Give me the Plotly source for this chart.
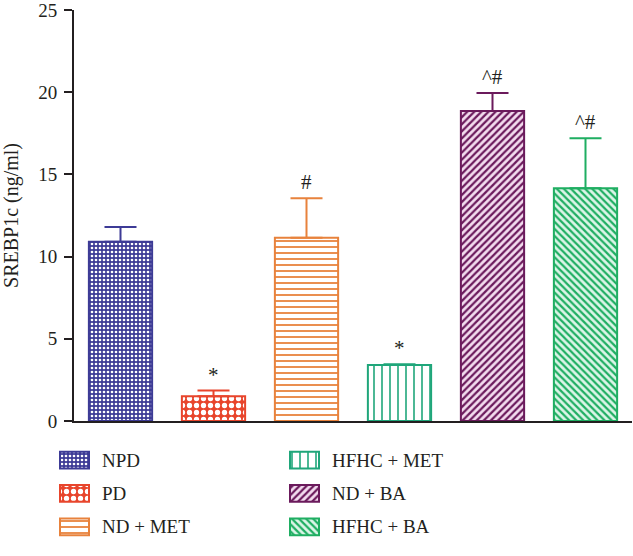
import plotly.graph_objects as go

groups = ["NPD", "PD", "ND + MET", "HFHC + MET", "ND + BA", "HFHC + BA"]
means = [10.9, 1.5, 11.15, 3.4, 18.85, 14.15]
errors = [0.9, 0.35, 2.4, 0.05, 1.1, 3.05]
marks = ["", "*", "#", "*", "^#", "^#"]
ytick_vals = [0, 5, 10, 15, 20, 25]

colors = ["#3d3b96", "#e8452c", "#e8823c", "#1fa67a", "#6b1a5c", "#1fae62"]
bgcolors = ["#3d3b96", "#e8452c", "#ffffff", "#ffffff", "#f3dcef", "#dcf5e8"]
fgcolors = ["#ffffff", "#ffffff", "#e8823c", "#1fa67a", "#6b1a5c", "#1fae62"]
shapes = [".", ".", "-", "|", "/", "\\"]
sizes = [4, 7, 6, 8, 5, 5]
solid = [0.35, 0.45, 0.3, 0.2, 0.45, 0.45]

# legend layout (row / column of each entry, in page pixels for the key area)
leg_row = [0, 1, 2, 0, 1, 2]
leg_col = [0, 0, 0, 1, 1, 1]
leg_sw_x = [60, 290]      # swatch left edge per column
leg_sw_w = 29
leg_txt_x = [100, 330]

FONT = "Liberation Serif"
TXT = "#231f20"
W, H = 633, 556
TOP = 10

fig = go.Figure()
for i, g in enumerate(groups):
    pat = dict(shape=shapes[i], fgcolor=fgcolors[i], bgcolor=bgcolors[i],
               size=sizes[i], solidity=solid[i], fillmode="replace")
    fig.add_trace(go.Bar(
        x=[g], y=[means[i]], name=g, width=0.68, showlegend=False,
        marker=dict(color=colors[i], line=dict(color=colors[i], width=2), pattern=pat),
        error_y=dict(type="data", array=[errors[i]], symmetric=False, arrayminus=[0],
                     color=colors[i], thickness=2, width=16),
        xaxis="x", yaxis="y",
    ))
    if marks[i]:
        fig.add_annotation(x=g, y=means[i] + errors[i], text=marks[i], showarrow=False,
                           xref="x", yref="y", yanchor="bottom", yshift=2,
                           font=dict(family=FONT, size=21, color=TXT))
    # legend key swatch
    fig.add_trace(go.Bar(
        orientation="h", y=[leg_row[i]], x=[leg_sw_w], base=[leg_sw_x[leg_col[i]]],
        width=0.5, showlegend=False, hoverinfo="skip",
        marker=dict(color=colors[i], line=dict(color=colors[i], width=2), pattern=pat),
        xaxis="x2", yaxis="y2",
    ))
    fig.add_annotation(x=leg_txt_x[leg_col[i]], y=leg_row[i], text=g, showarrow=False,
                       xref="x2", yref="y2", xanchor="left", yanchor="middle",
                       font=dict(family=FONT, size=19, color=TXT))

fig.update_layout(
    width=W, height=H,
    margin=dict(l=0, r=0, t=TOP, b=0, autoexpand=False),
    paper_bgcolor="white", plot_bgcolor="white",
    barmode="overlay",
    showlegend=False,
    font=dict(family=FONT, color=TXT),
    xaxis=dict(domain=[74 / W, 632 / W], anchor="y",
               showticklabels=False, ticks="", showline=True, linecolor="#231f20",
               linewidth=2, showgrid=False, zeroline=False, range=[-0.5, 5.5],
               automargin=False),
    yaxis=dict(domain=[(H - 421) / (H - TOP), 1], anchor="x",
               range=[0, 25], tickvals=ytick_vals, showline=True,
               linecolor="#231f20", linewidth=2, ticks="outside", ticklen=8,
               tickwidth=2, tickcolor="#231f20", showgrid=False, zeroline=False,
               automargin=False, ticklabeloverflow="allow", ticklabelstandoff=3,
               tickfont=dict(family=FONT, size=19, color=TXT),
               title=dict(text="SREBP1c (ng/ml)", standoff=15,
                          font=dict(family=FONT, size=20, color=TXT))),
    xaxis2=dict(domain=[0, 1], anchor="y2", range=[0, W], visible=False, fixedrange=True),
    yaxis2=dict(domain=[0, 110 / (H - TOP)], anchor="x2", range=[2.866, -0.418],
                visible=False, fixedrange=True),
)
fig.add_shape(type="line", xref="paper", yref="y", x0=66 / W, x1=74 / W, y0=0, y1=0,
              line=dict(color="#231f20", width=2))

fig.write_html("out.html", config={"displayModeBar": False},
               post_script="document.body.style.margin='0';")
